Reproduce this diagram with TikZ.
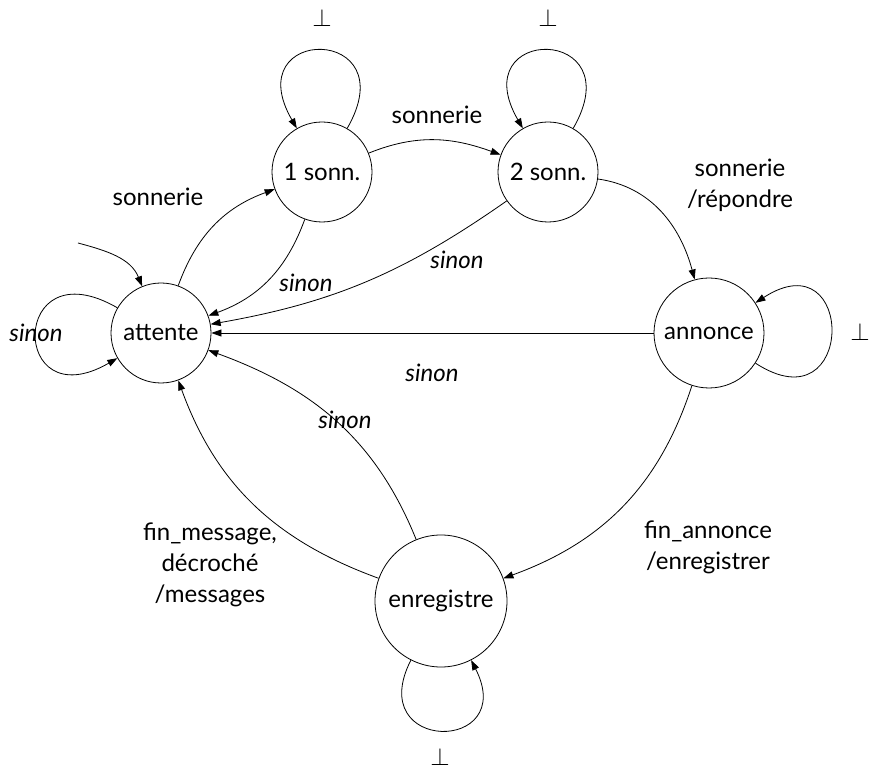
\documentclass[tikz,border=0pt]{standalone}
\usepackage{fontspec}
\setmainfont{Lato}
\usetikzlibrary{arrows.meta}
\begin{document}
\begin{tikzpicture}[x=1pt,y=1pt,
  every node/.style={font=\fontsize{24}{31}\selectfont},
  state/.style={draw, circle, line width=0.8pt, inner sep=0pt},
  trans/.style={draw, line width=0.8pt, -{Triangle[length=10pt,width=7pt]}},
  lbl/.style={align=center, inner sep=0pt},
  cond/.style={font=\fontsize{24}{31}\selectfont\itshape, inner sep=0pt},
  nil/.style={inner sep=0pt, font=\fontsize{24}{31}\selectfont},
]
\useasboundingbox (0,0) rectangle (869,771);

% states
\node[state, minimum size=100pt] (at) at (161,438) {attente};
\node[state, minimum size=100pt] (s1) at (322,599) {1 sonn.};
\node[state, minimum size=100pt] (s2) at (548,599) {2 sonn.};
\node[state, minimum size=110pt] (an) at (709,438) {annonce};
\node[state, minimum size=132pt] (en) at (441,170) {enregistre};

% initial arrow
\coordinate (init) at (78,528);
\draw[trans] (init) to[out=-15,in=112] (at);

% self loops
\draw[trans] (at) to[out=150,in=210,distance=125pt] (at);
\draw[trans] (s1) to[out=60,in=120,distance=120pt] (s1);
\draw[trans] (s2) to[out=60,in=120,distance=120pt] (s2);
\draw[trans] (an) to[out=-33,in=33,distance=120pt] (an);
\draw[trans] (en) to[out=243,in=297,distance=105pt] (en);

% transitions
\draw[trans] (at) to[out=70,in=200] (s1);
\draw[trans] (s1) to[out=22,in=160] (s2);
\draw[trans] (s1) to[out=250,in=20] (at);
\draw[trans] (s2) to[out=215,in=10] (at);
\draw[trans] (s2) to[out=-8,in=105] (an);
\draw[trans] (an) -- (at);
\draw[trans] (an) to[out=252,in=20] (en);
\draw[trans] (en) to[out=160,in=290] (at);
\draw[trans] (en) to[out=112,in=-20] (at);

% labels
\node[cond] (l1) at (36,438) {sinon};
\node[lbl] (l2) at (158,574) {sonnerie};
\node[lbl] (l3) at (437,656) {sonnerie};
\node[cond] (l4) at (306,488) {sinon};
\node[cond] (l5) at (457,511) {sinon};
\node[lbl] (l6) at (740,586) {sonnerie\\/répondre};
\node[cond] (l7) at (432,398) {sinon};
\node[cond] (l8) at (345,351) {sinon};
\node[lbl] (l9) at (708,224) {fin\_annonce\\/enregistrer};
\node[lbl] (l10) at (210,206) {fin\_message,\\décroché\\/messages};

% empty-action markers
\node[nil] (b1) at (322,753) {$\bot$};
\node[nil] (b2) at (548,753) {$\bot$};
\node[nil] (b3) at (860,439) {$\bot$};
\node[nil] (b4) at (440,14) {$\bot$};
\end{tikzpicture}
\end{document}
